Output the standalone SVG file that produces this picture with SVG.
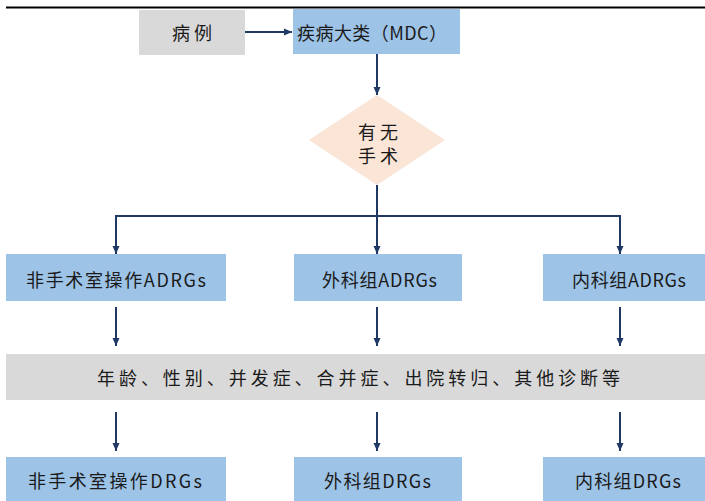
<svg xmlns="http://www.w3.org/2000/svg" width="705" height="501" viewBox="0 0 705 501">
<style>
.blue{fill:#9dc3e6}
.gray{fill:#d9d9d9}
.dia{fill:#fbe5d6}
.t{font-family:"Noto Sans CJK SC","Liberation Sans",sans-serif;font-size:18px;fill:#1a1a1a;text-anchor:start;dominant-baseline:central}
.c{fill:none;stroke:#1f3864;stroke-width:2}
</style>
<defs>
<marker id="ah" markerUnits="userSpaceOnUse" markerWidth="8" markerHeight="8" refX="8" refY="4" orient="auto">
<path d="M0,0.5 L8,4 L0,7.5 Z" fill="#1f3864"/>
</marker>
</defs>
<line x1="6" y1="7.5" x2="705" y2="7.5" stroke="#000" stroke-width="2"/>
<g id="n-case"><rect class="gray" x="139" y="10" width="106" height="45"/><text class="t" x="172" y="32" textLength="40" lengthAdjust="spacing">病例</text></g>
<g id="n-mdc"><rect class="blue" x="293" y="9" width="167" height="45"/><text class="t" x="297" y="32" textLength="150" lengthAdjust="spacing">疾病大类（MDC）</text></g>
<g id="n-surgery"><polygon class="dia" points="377,95 445,140 377,185 309,140"/><text class="t" x="358" y="131" textLength="40" lengthAdjust="spacing">有无</text><text class="t" x="358" y="155" textLength="40" lengthAdjust="spacing">手术</text></g>
<g id="n-adrg1"><rect class="blue" x="6" y="254" width="220" height="47"/><text class="t" x="26" y="279" textLength="180" lengthAdjust="spacing">非手术室操作ADRGs</text></g>
<g id="n-adrg2"><rect class="blue" x="294" y="254" width="168" height="47"/><text class="t" x="322" y="279" textLength="115" lengthAdjust="spacing">外科组ADRGs</text></g>
<g id="n-adrg3"><rect class="blue" x="543" y="254" width="162" height="47"/><text class="t" x="572" y="279" textLength="114" lengthAdjust="spacing">内科组ADRGs</text></g>
<g id="n-factors"><rect class="gray" x="6" y="354" width="699" height="46"/><text class="t" x="97" y="377" textLength="523" lengthAdjust="spacing">年龄、性别、并发症、合并症、出院转归、其他诊断等</text></g>
<g id="n-drg1"><rect class="blue" x="6" y="457" width="220" height="44"/><text class="t" x="28" y="480" textLength="174" lengthAdjust="spacing">非手术室操作DRGs</text></g>
<g id="n-drg2"><rect class="blue" x="294" y="457" width="168" height="44"/><text class="t" x="324" y="480" textLength="107" lengthAdjust="spacing">外科组DRGs</text></g>
<g id="n-drg3"><rect class="blue" x="543" y="457" width="162" height="44"/><text class="t" x="575" y="480" textLength="106" lengthAdjust="spacing">内科组DRGs</text></g>
<g id="connectors">
<line class="c" x1="245" y1="32" x2="292" y2="32" marker-end="url(#ah)"/>
<line class="c" x1="377" y1="54" x2="377" y2="95" marker-end="url(#ah)"/>
<line class="c" x1="377" y1="185" x2="377" y2="216"/>
<polyline class="c" points="116,254 116,216 620,216 620,254" marker-end="url(#ah)"/>
<line class="c" x1="116" y1="240" x2="116" y2="254" marker-end="url(#ah)"/>
<line class="c" x1="377" y1="216" x2="377" y2="254" marker-end="url(#ah)"/>
<line class="c" x1="116" y1="307" x2="116" y2="346" marker-end="url(#ah)"/>
<line class="c" x1="377" y1="307" x2="377" y2="346" marker-end="url(#ah)"/>
<line class="c" x1="620" y1="307" x2="620" y2="346" marker-end="url(#ah)"/>
<line class="c" x1="116" y1="412" x2="116" y2="451" marker-end="url(#ah)"/>
<line class="c" x1="377" y1="412" x2="377" y2="451" marker-end="url(#ah)"/>
<line class="c" x1="620" y1="412" x2="620" y2="451" marker-end="url(#ah)"/>
</g>
</svg>
